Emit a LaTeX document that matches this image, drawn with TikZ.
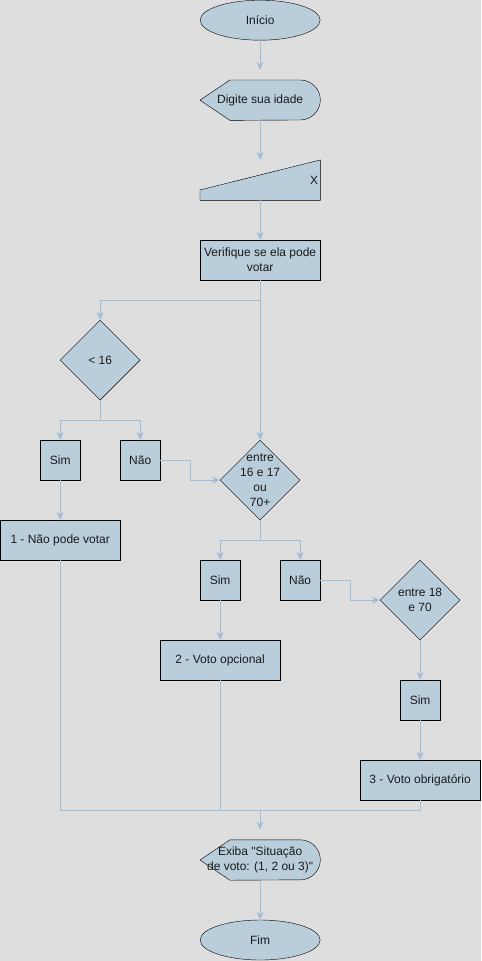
\documentclass[tikz,border=0pt]{standalone}
\usepackage{fontspec}
\setmainfont{Liberation Sans}
\usetikzlibrary{shapes.geometric,arrows.meta,backgrounds}
\definecolor{fundo}{HTML}{DEDEDE}
\definecolor{caixa}{HTML}{BACDDB}
\definecolor{linha}{HTML}{9EBEDA}
\definecolor{texto}{HTML}{1A1A1A}

\begin{document}
\begin{tikzpicture}[x=1pt,y=-1pt,
    every node/.style={font=\fontsize{12}{15}\selectfont, text=texto, align=center},
    terminal/.style={ellipse, draw=black, fill=caixa, minimum width=120pt, minimum height=40pt, inner sep=0pt},
    processo/.style={rectangle, draw=black, fill=caixa, minimum width=120pt, minimum height=40pt, inner sep=2pt},
    opcao/.style={rectangle, draw=black, fill=caixa, minimum width=40pt, minimum height=40pt, inner sep=2pt},
    decisao/.style={diamond, draw=black, fill=caixa, minimum width=80pt, minimum height=80pt, inner sep=0pt, aspect=1},
    vazio/.style={rectangle, minimum width=120pt, minimum height=40pt, inner sep=0pt},
    seta/.style={draw=linha, line width=1pt, -{Stealth[length=8pt,width=7pt,inset=2.5pt]}},
    fio/.style={draw=linha, line width=1pt}]

  \begin{scope}[on background layer]
    \path[use as bounding box, fill=fundo] (0,0) rectangle (481,961);
  \end{scope}

   \draw (260,20) node[terminal] (inicio) {Início};
   \draw (260,100) node[vazio] (leitura) {Digite sua idade};
   \draw (260,180) node[vazio, text width=116pt, align=right] (entrada) {X};
   \draw (260,260) node[processo] (verifica) {Verifique se ela pode\\votar};

   \draw (100,360) node[decisao] (menor) {< 16};
      \draw (60,460) node[opcao] (sim1) {Sim};
      \draw (140,460) node[opcao] (nao1) {Não};
      \draw (60,540) node[processo] (res1) {1 - Não pode votar};

   \draw (260,480) node[decisao, label={center:entre\\16 e 17\\ou\\70+}] (faixa1) {};
      \draw (220,580) node[opcao] (sim2) {Sim};
      \draw (300,580) node[opcao] (nao2) {Não};
      \draw (220,660) node[processo] (res2) {2 - Voto opcional};

   \draw (420,600) node[decisao] (faixa2) {entre 18\\e 70};
      \draw (420,700) node[opcao] (sim3) {Sim};
      \draw (420,780) node[processo] (res3) {3 - Voto obrigatório};

   \draw (260,860) node[vazio] (exiba) {Exiba \textquotedbl Situação\\de voto: (1, 2 ou 3)\textquotedbl};
   \draw (260,940) node[terminal] (fim) {Fim};

  \begin{scope}[on background layer]
    \filldraw[draw=black, fill=caixa] (leitura.west) -- ([xshift=30pt]leitura.north west) -- ([xshift=-20pt]leitura.north east) arc[start angle=90, end angle=-90, radius=20pt] -- ([xshift=30pt]leitura.south west) -- cycle;
    \filldraw[draw=black, fill=caixa] ([yshift=-30pt]entrada.north west) -- (entrada.north east) -- (entrada.south east) -- (entrada.south west) -- cycle;
    \filldraw[draw=black, fill=caixa] (exiba.west) -- ([xshift=30pt]exiba.north west) -- ([xshift=-20pt]exiba.north east) arc[start angle=90, end angle=-90, radius=20pt] -- ([xshift=30pt]exiba.south west) -- cycle;
  \end{scope}

     \draw[seta, shorten >=10pt] (inicio) -- (leitura);
     \draw[seta] (leitura) -- (entrada);
     \draw[seta] (entrada) -- (verifica);
     \draw[seta] (verifica) -- (faixa1);
     \draw[seta] (verifica.south) -- ++(0,20) -| (menor.north);

     \draw[seta] (menor.south) -- ++(0,20) -| (sim1.north);
     \draw[seta] (menor.south) -- ++(0,20) -| (nao1.north);
     \draw[seta] (sim1) -- (res1);
     \draw[seta] (nao1.east) -- ++(30,0) |- (faixa1.west);

     \draw[seta] (faixa1.south) -- ++(0,20) -| (sim2.north);
     \draw[seta] (faixa1.south) -- ++(0,20) -| (nao2.north);
     \draw[seta] (sim2) -- (res2);
     \draw[seta] (nao2.east) -- ++(30,0) |- (faixa2.west);

     \draw[seta] (faixa2) -- (sim3);
     \draw[seta] (sim3) -- (res3);

   \coordinate (juncao) at (260,810);
     \draw[fio] (res1.south) |- (juncao);
     \draw[fio] (res2.south) |- (juncao);
     \draw[fio] (res3.south) |- (juncao);
     \draw[seta, shorten >=10pt] (juncao) -- (exiba);
     \draw[seta] (exiba) -- (fim);

\end{tikzpicture}
\end{document}
